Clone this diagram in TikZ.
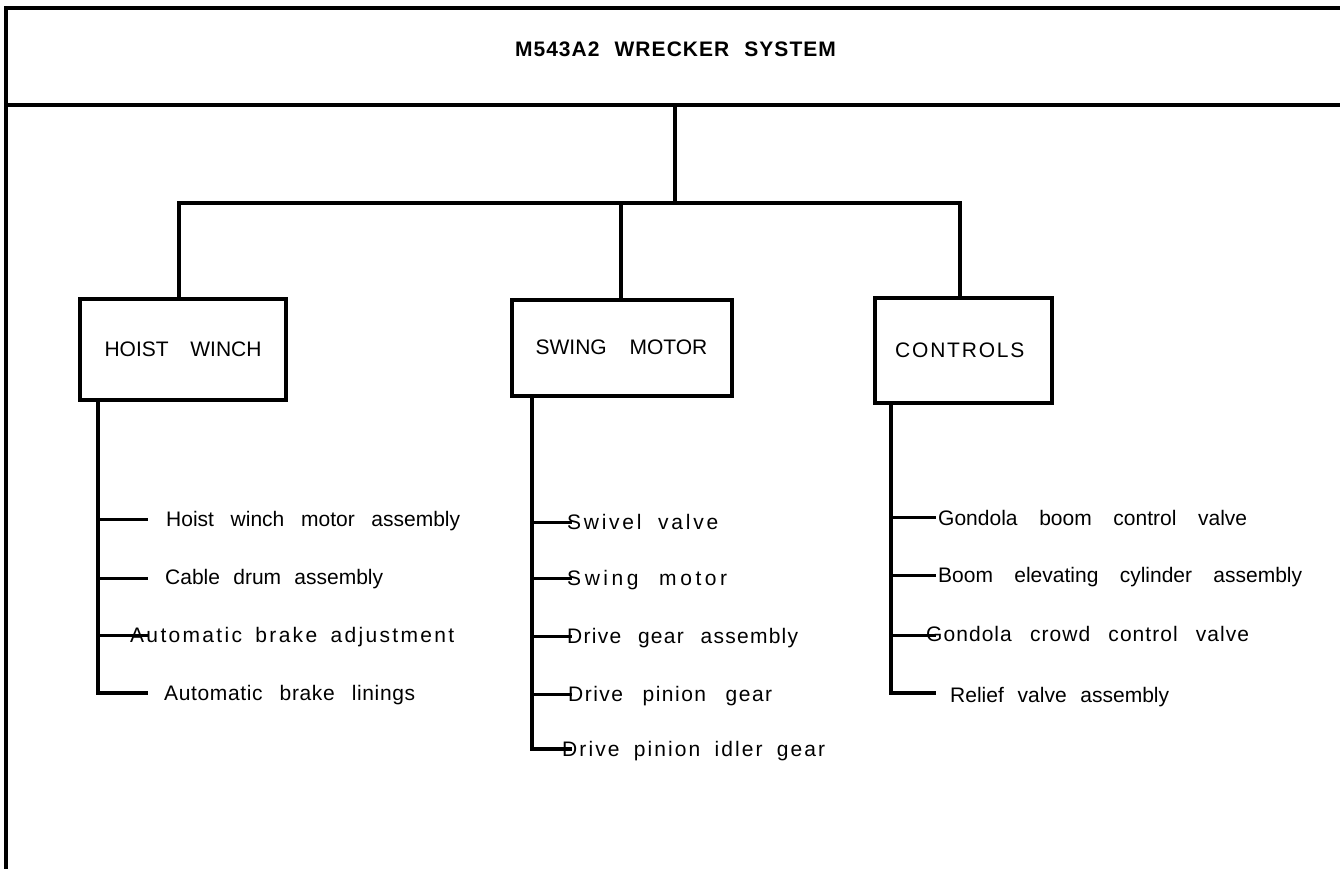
\documentclass[tikz,border=0pt]{standalone}
\usepackage{fontspec}
\setmainfont{Liberation Sans}
\newcommand{\spreadtext}[3]{\makebox[#2pt][s]{\addfontfeatures{LetterSpace=#1}#3}}
\begin{document}
\begin{tikzpicture}[x=1pt,y=-1pt,
  font=\fontsize{21}{25}\selectfont,
  frameline/.style={line width=4pt,line join=miter},
  boxnode/.style={draw,line width=4pt,inner sep=0pt},
  link/.style={line width=4pt,line join=miter},
  bar/.style={line width=3.2pt,line join=miter},
  tick/.style={line width=3pt},
  itemlbl/.style={anchor=base west,inner sep=0pt}]
\useasboundingbox (0,0) rectangle (1340,869);
% frame
\draw[frameline] (1345,8) -- (5.5,8) -- (5.5,875);
\draw[frameline] (5.5,105) -- (1345,105);
% title
\node[anchor=base,inner sep=0pt,font=\bfseries\fontsize{21}{25}\selectfont] (title) at (675.5,56.5) {\spreadtext{5}{321}{M543A2 WRECKER SYSTEM}};
% boxes
\node[boxnode,minimum width=206pt,minimum height=101pt] (hw) at (183,349.5) {\spreadtext{0}{157}{HOIST WINCH}};
\node[boxnode,minimum width=220pt,minimum height=96pt] (sm) at (621.5,347.5) {\spreadtext{0}{171.7}{SWING MOTOR}};
\node[boxnode,minimum width=176.5pt,minimum height=104.5pt] (ct) at (963.7,350.7) {\spreadtext{8.5}{129}{CONTROLS}\hspace*{8pt}};
% tree links
\coordinate (root) at (675,105);
\coordinate (hub) at (675,203);
\coordinate (jl) at (179,203);
\coordinate (jm) at (621,203);
\coordinate (jr) at (960,203);
\draw[link] (root) -- (hub);
\draw[link] (jl |- hw.north) -- (jl) -- (jr) -- (jr |- ct.north);
\draw[link] (jm) -- (jm |- sm.north);
% hoist winch items
\node[itemlbl] (h1) at (166,526.5) {\spreadtext{0}{294}{Hoist winch motor assembly}};
\node[itemlbl] (h2) at (165,584.5) {\spreadtext{0}{218}{Cable drum assembly}};
\node[itemlbl] (h3) at (130,642.5) {\spreadtext{11}{324}{Automatic brake adjustment}};
\node[itemlbl] (h4) at (164,700.5) {\spreadtext{3}{251}{Automatic brake linings}};
\coordinate (hb1) at (98,519); \coordinate (he1) at (148,519);
\coordinate (hb2) at (98,578); \coordinate (he2) at (148,578);
\coordinate (hb3) at (98,635); \coordinate (he3) at (148,635);
\coordinate (hb4) at (98,693); \coordinate (he4) at (148,693);
\draw[bar] (hb4 |- hw.south) -- (hb4) -- (he4);
\draw[tick] (hb1) -- (he1);
\draw[tick] (hb2) -- (he2);
\draw[tick] (hb3) -- (he3);
% swing motor items
\node[itemlbl] (s1) at (567,529.5) {\spreadtext{13}{151}{Swivel valve}};
\node[itemlbl] (s2) at (567,585.5) {\spreadtext{17}{160}{Swing motor}};
\node[itemlbl] (s3) at (567,643.5) {\spreadtext{6}{231}{Drive gear assembly}};
\node[itemlbl] (s4) at (568,701.5) {\spreadtext{7}{204}{Drive pinion gear}};
\node[itemlbl] (s5) at (562,756.5) {\spreadtext{10}{263}{Drive pinion idler gear}};
\coordinate (sb1) at (532,522); \coordinate (se1) at (572,522);
\coordinate (sb2) at (532,578); \coordinate (se2) at (572,578);
\coordinate (sb3) at (532,636); \coordinate (se3) at (572,636);
\coordinate (sb4) at (532,694); \coordinate (se4) at (572,694);
\coordinate (sb5) at (532,749); \coordinate (se5) at (572,749);
\draw[bar] (sb5 |- sm.south) -- (sb5) -- (se5);
\draw[tick] (sb1) -- (se1);
\draw[tick] (sb2) -- (se2);
\draw[tick] (sb3) -- (se3);
\draw[tick] (sb4) -- (se4);
% controls items
\node[itemlbl] (c1) at (938,525.5) {\spreadtext{0}{309}{Gondola boom control valve}};
\node[itemlbl] (c2) at (938,582.5) {\spreadtext{0}{364}{Boom elevating cylinder assembly}};
\node[itemlbl] (c3) at (926,641.5) {\spreadtext{5}{323}{Gondola crowd control valve}};
\node[itemlbl] (c4) at (950,702) {\spreadtext{0}{219}{Relief valve assembly}};
\coordinate (cb1) at (891,517); \coordinate (ce1) at (936,517);
\coordinate (cb2) at (891,575); \coordinate (ce2) at (936,575);
\coordinate (cb3) at (891,635); \coordinate (ce3) at (936,635);
\coordinate (cb4) at (891,693); \coordinate (ce4) at (936,693);
\draw[bar] (cb4 |- ct.south) -- (cb4) -- (ce4);
\draw[tick] (cb1) -- (ce1);
\draw[tick] (cb2) -- (ce2);
\draw[tick] (cb3) -- (ce3);
\end{tikzpicture}
\end{document}
